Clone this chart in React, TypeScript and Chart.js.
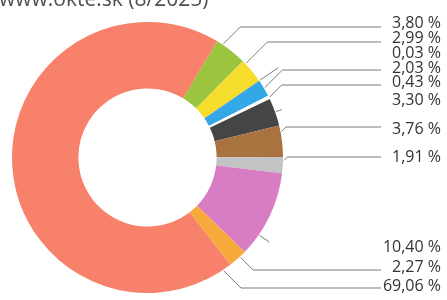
import React, { useEffect, useRef } from "react";
import { Chart, registerables } from "chart.js";

Chart.register(...registerables);

const title = "www.okte.sk (8/2025)";
const sources = ["a", "b", "c", "d", "e", "f", "g", "h", "i", "j", "k"];
const shares = [3.8, 2.99, 0.03, 2.03, 0.43, 3.3, 3.76, 1.91, 10.4, 2.27, 69.06];
const colors = [
  "#9cc53f",
  "#f6dc2c",
  "#6a4c93",
  "#34a8e6",
  "#ffffff",
  "#454545",
  "#a9733f",
  "#c3c3c3",
  "#d87cc3",
  "#f8a93c",
  "#f7816a",
];

// label layout (text centre y, leader horizontal y; null => short tick only)
const labelY = [23, 38, 53, 68, 82, 100, 129, 157, 247, 267, 286];
const lineY: (number | null)[] = [27, 42, null, 70, 85, null, 127, 157, null, 270, 288];
// where along each slice the leader starts (fraction of slice angle)
const anchorFrac = [0.2, 0.15, 0.5, 0.5, 0.5, 0.5, 0.2, 0.2, 0.75, 0.35, 0.015];

const fmt = (v: number) => v.toFixed(2).replace(".", ",") + " %";

const labelPlugin = {
  id: "leaderLabels",
  afterDraw(chart: any) {
    const ctx = chart.ctx as CanvasRenderingContext2D;
    const meta = chart.getDatasetMeta(0);
    ctx.save();
    // title (cut off at the top, as in the source)
    ctx.fillStyle = "#505050";
    ctx.font = "21px 'Open Sans'";
    ctx.textAlign = "left";
    ctx.textBaseline = "alphabetic";
    ctx.fillText(title, -1, 6);

    ctx.strokeStyle = "#7a7a7a";
    ctx.lineWidth = 1;
    const textRight = 441;
    const lineEnd = 381;
    meta.data.forEach((arc: any, i: number) => {
      const p = arc.getProps(["x", "y", "startAngle", "endAngle", "outerRadius"], true);
      const ang = p.startAngle + (p.endAngle - p.startAngle) * anchorFrac[i];
      const r = p.outerRadius + 1;
      const ax = p.x + Math.cos(ang) * r;
      const ay = p.y + Math.sin(ang) * r;
      const ly = lineY[i];
      ctx.beginPath();
      if (ly !== null) {
        const dy = ly - ay;
        const ex = ax + Math.abs(dy);
        ctx.moveTo(ax, ay);
        ctx.lineTo(ex, ly);
        ctx.lineTo(lineEnd, ly);
      } else {
        const len = shares[i] > 5 ? 12 : shares[i] > 1 ? 6 : 22;
        ctx.moveTo(ax, ay);
        ctx.lineTo(ax + Math.cos(ang) * len, ay + Math.sin(ang) * len);
      }
      ctx.stroke();

      ctx.fillStyle = "#333333";
      ctx.font = "16px 'Open Sans'";
      ctx.textAlign = "right";
      ctx.textBaseline = "middle";
      ctx.fillText(fmt(shares[i]), textRight, labelY[i]);
    });
    ctx.restore();
  },
};

export default function App() {
  const ref = useRef<HTMLCanvasElement | null>(null);
  useEffect(() => {
    if (!ref.current) return;
    const chart = new Chart(ref.current, {
      type: "doughnut",
      data: {
        labels: sources,
        datasets: [
          {
            data: shares,
            backgroundColor: colors,
            borderWidth: 0,
          },
        ],
      },
      options: {
        responsive: false,
        animation: false,
        rotation: 31,
        cutout: "51%",
        layout: { padding: { left: 11, top: 22, right: 163, bottom: 7 } },
        plugins: {
          legend: { display: false },
          tooltip: { enabled: false },
          title: { display: false },
        },
      },
      plugins: [labelPlugin],
    });
    return () => chart.destroy();
  }, []);
  return (
    <div style={{ position: "absolute", left: 0, top: 0, width: 447, height: 300, background: "#fff" }}>
      <canvas ref={ref} width={447} height={300} style={{ width: 447, height: 300 }} />
    </div>
  );
}
